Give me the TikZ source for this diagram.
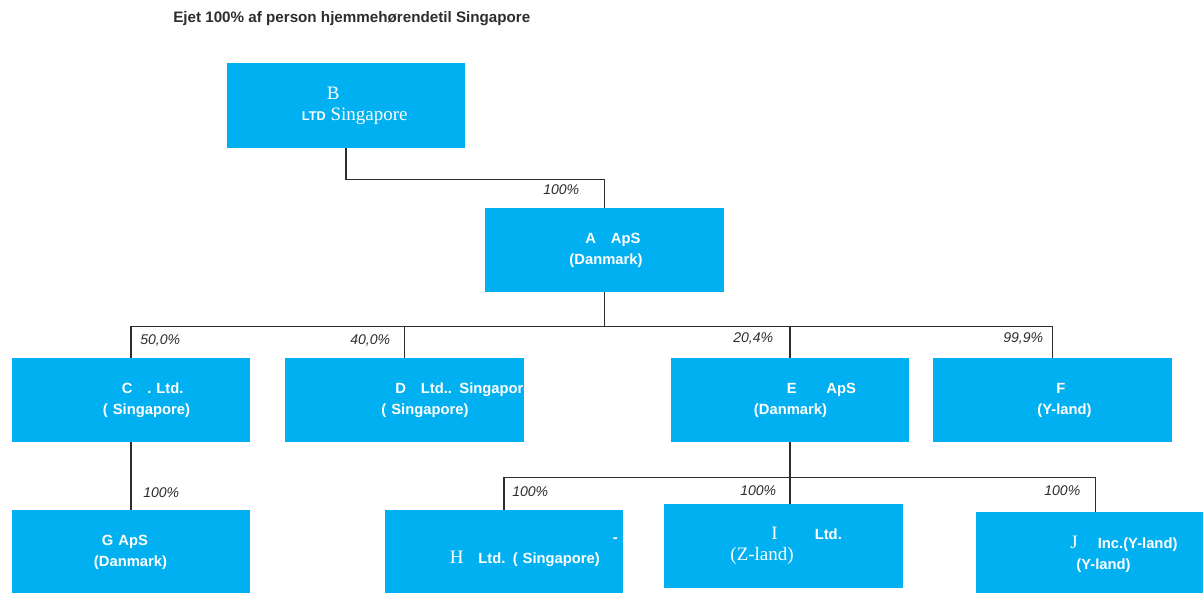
\documentclass[tikz,border=0pt]{standalone}
\usepackage{fontspec}
\setmainfont{Liberation Sans}
\newfontfamily\serifface{Liberation Serif}
\usetikzlibrary{positioning}
\definecolor{sky}{RGB}{0,176,240}
\definecolor{ink}{RGB}{45,45,45}
\newlength\pxu
\setlength\pxu{0.025cm}
\newcommand\ind[1]{\hspace*{#1\pxu}}
\newcommand\sr[1]{{\serifface\mdseries\fontsize{13.5}{15}\selectfont #1}}
\tikzset{
  box/.style={fill=sky,text=white,minimum width=#1,minimum height=2.1cm,
    inner xsep=0pt,inner ysep=0pt,text width=#1,align=left,
    font=\fontsize{10.5}{15}\selectfont\bfseries},
  box/.default=5.95cm,
  link/.style={draw=ink,line width=0.8pt},
  tag/.style={anchor=west,inner sep=0pt,text=ink,font=\fontsize{10}{12}\selectfont\itshape},
}
\begin{document}
\begin{tikzpicture}[x=0.025cm,y=-0.025cm]
  \useasboundingbox (0,0) rectangle (1203,592);
  \clip (0,0) rectangle (1203,592);
  \node[anchor=west,inner sep=0pt,text=ink,font=\fontsize{10.8}{12}\selectfont\bfseries] (title) at (173,19)
    {Ejet 100\% af person hjemmehørendetil Singapore};
  % owners
  \node[box] (b) at (346,105.5) {\ind{100}\sr{B}\\\ind{75}{\fontsize{9}{15}\selectfont LTD} \sr{Singapore}};
  \node[box] (a) at (604.5,250) {\ind{100}A\quad ApS\\\ind{84}(Danmark)};
  % first level
  \node[box] (c) at (131,400) {\ind{110}C\quad . Ltd.\\\ind{91}( Singapore)};
  \node[box] (d) at (404.5,400) {\mbox{\ind{110}D\quad Ltd.. Singapore}\\\ind{96}( Singapore)};
  \node[box] (e) at (790,400) {\ind{116}E\qquad ApS\\\ind{83}(Danmark)};
  \node[box] (f) at (1052.5,400) {\ind{123}F\\\ind{104}(Y-land)};
  % second level
  \node[box] (g) at (131,552) {\ind{90}G ApS\\\ind{82}(Danmark)};
  \node[box] (h) at (504,552) {\ind{228}-\\\ind{65}\sr{H}\quad Ltd. ( Singapore)};
  \node[box] (i) at (783.5,546) {\ind{107}\sr{I}\ind{37}Ltd.\\\ind{66}\sr{(Z-land)}};
  \node[box] (j) at (1095.5,554) {\ind{94}\sr{J}\ind{20}Inc.(Y-land)\\\ind{100}(Y-land)};
  % ownership lines
  \draw[link] (b.south) -- ++(0,32) -| (a.north);
  \foreach \n in {c,d,e,f}
    \draw[link] (a.south) -- ++(0,34) -| (\n.north);
  \draw[link] (c.south) -- (g.north);
  \draw[link] (e.south) -- (e.south |- i.north);
  \foreach \n in {h,j}
    \draw[link] (e.south) -- ++(0,35) -| (\n.north);
  % shares
  \node[tag] (pba) at (543,190) {100\%};
  \node[tag] (pac) at (140,340) {50,0\%};
  \node[tag] (pad) at (350,340) {40,0\%};
  \node[tag] (pae) at (733,338) {20,4\%};
  \node[tag] (paf) at (1003,338) {99,9\%};
  \node[tag] (pcg) at (143,493) {100\%};
  \node[tag] (peh) at (512,492) {100\%};
  \node[tag] (pei) at (740,491) {100\%};
  \node[tag] (pej) at (1044,491) {100\%};
\end{tikzpicture}
\end{document}
